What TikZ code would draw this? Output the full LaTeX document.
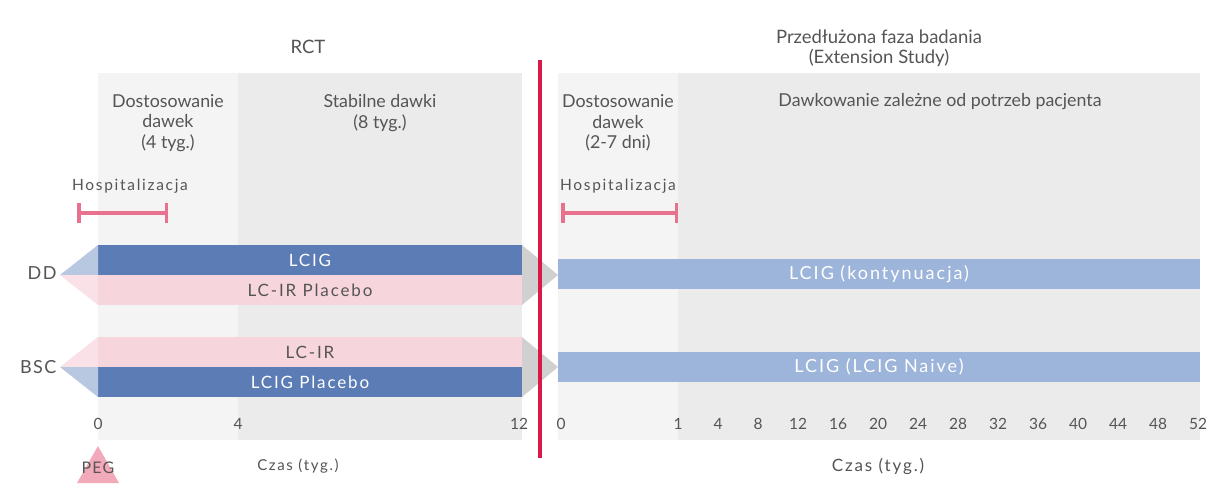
\documentclass[tikz,border=0pt]{standalone}
\usepackage{fontspec}
\setmainfont{Lato}
\newfontfamily\spaced[LetterSpace=8]{Lato}
\newfontfamily\wide[LetterSpace=11]{Lato}
\definecolor{panelA}{HTML}{F4F4F4}
\definecolor{panelB}{HTML}{EBEBEB}
\definecolor{dblue}{HTML}{5B7CB4}
\definecolor{lblue}{HTML}{9DB5DA}
\definecolor{tblue}{HTML}{B7C8E0}
\definecolor{pinkbar}{HTML}{F6D5DC}
\definecolor{tpink}{HTML}{FAE1E7}
\definecolor{tgray}{HTML}{D0D0D0}
\definecolor{redline}{HTML}{D8194B}
\definecolor{hosp}{HTML}{E8718D}
\definecolor{pegc}{HTML}{F2AABB}
\definecolor{txt}{HTML}{555555}
\tikzset{
  panel/.style={anchor=north west, inner sep=0pt, outer sep=0pt},
  bar/.style={anchor=north west, inner sep=0pt, outer sep=0pt, minimum width=424pt, minimum height=30pt, font=\wide\fontsize{17}{18}\selectfont},
  rbar/.style={anchor=north west, inner sep=0pt, outer sep=0pt, minimum width=642pt, minimum height=30pt, fill=lblue, text=white, font=\wide\fontsize{18}{18}\selectfont},
  head/.style={align=center, text=txt, font=\fontsize{17.8}{20.5}\selectfont},
  title/.style={align=center, text=txt, font=\fontsize{18.5}{20}\selectfont},
  tick/.style={text=txt, font=\fontsize{15.5}{18}\selectfont},
  small/.style={text=txt, font=\wide\fontsize{15.5}{16}\selectfont},
  hospbar/.style={draw=hosp, line width=3.5pt, {Bar[width=20pt,line width=3.5pt]}-{Bar[width=20pt,line width=3.5pt]}},
}
\usetikzlibrary{arrows.meta}
\begin{document}
\begin{tikzpicture}[x=1pt,y=-1pt]
\useasboundingbox[fill=white] (0,0) rectangle (1209,496);
% panels
\node[panel, fill=panelA, minimum width=140pt, minimum height=367pt] (p1) at (98,73) {};
\node[panel, fill=panelB, minimum width=284pt, minimum height=367pt] (p2) at (238,73) {};
\node[panel, fill=panelA, minimum width=120pt, minimum height=367pt] (p3) at (558,73) {};
\node[panel, fill=panelB, minimum width=522pt, minimum height=367pt] (p4) at (678,73) {};
% titles
\node[title] (rct) at (308,47) {RCT};
\node[title] (ext) at (879,48) {Przedłużona faza badania\\(Extension Study)};
\node[head] (h1) at (168,123) {Dostosowanie\\dawek\\(4 tyg.)};
\node[head] (h2) at (380,113) {Stabilne dawki\\(8 tyg.)};
\node[head] (h3) at (618,123) {Dostosowanie\\dawek\\(2-7 dni)};
\node[head] (h4) at (940,102) {Dawkowanie zależne od potrzeb pacjenta};
% hospitalization
\node[small] (hl) at (130,186) {Hospitalizacja};
\node[small] (hr) at (618,186) {Hospitalizacja};
\coordinate (hla) at (77,213); \coordinate (hlb) at (168,213);
\coordinate (hra) at (561,213); \coordinate (hrb) at (678,213);
\draw[hospbar] (hla) -- (hlb);
\draw[hospbar] (hra) -- (hrb);
% bars left
\node[bar, fill=dblue, text=white] (lcig) at (98,245) {LCIG};
\node[bar, fill=pinkbar, text=txt] (lcirp) at (98,275) {LC-IR Placebo};
\node[bar, fill=pinkbar, text=txt] (lcir) at (98,337) {LC-IR};
\node[bar, fill=dblue, text=white] (lcigp) at (98,367) {LCIG Placebo};
\coordinate (ddtip) at (60,275);
\coordinate (bsctip) at (60,367);
\fill[tblue] (lcig.north west) -- (lcig.south west) -- (ddtip) -- cycle;
\fill[tpink] (lcirp.north west) -- (lcirp.south west) -- (ddtip) -- cycle;
\fill[tpink] (lcir.north west) -- (lcir.south west) -- (bsctip) -- cycle;
\fill[tblue] (lcigp.north west) -- (lcigp.south west) -- (bsctip) -- cycle;
\node[tick, font=\spaced\fontsize{18}{20}\selectfont, anchor=east] (dd) at (60,273) {DD};
\node[tick, font=\spaced\fontsize{18}{20}\selectfont, anchor=east] (bsc) at (60,367) {BSC};
% gray arrows
\coordinate (g1) at (558,275);
\coordinate (g2) at (558,367);
\fill[tgray] (lcig.north east) -- (lcirp.south east) -- (g1) -- cycle;
\fill[tgray] (lcir.north east) -- (lcigp.south east) -- (g2) -- cycle;
% right bars
\node[rbar] (kont) at (558,259) {LCIG (kontynuacja)};
\node[rbar] (naive) at (558,352) {LCIG (LCIG Naive)};
% red line
\coordinate (rla) at (540,60); \coordinate (rlb) at (540,458);
\draw[redline, line width=4pt] (rla) -- (rlb);
% axis labels
\node[tick] (t0) at (98,424) {0};
\node[tick] (t4) at (238,424) {4};
\node[tick] (t12) at (519,424) {12};
\node[tick] (r0) at (561,424) {0};
\node[tick] (r1) at (678,424) {1};
\foreach \v [count=\i] in {4,8,...,52} {
  \node[tick] (r\v) at (678+40*\i,424) {\v};
}
\node[small, font=\wide\fontsize{15}{18}\selectfont] (czl) at (298,466) {Czas (tyg.)};
\node[small, font=\wide\fontsize{17}{18}\selectfont] (czr) at (878,466) {Czas (tyg.)};
% PEG
\coordinate (pa) at (98,446); \coordinate (pb) at (77,483); \coordinate (pc) at (119,483);
\fill[pegc] (pa) -- (pb) -- (pc) -- cycle;
\node[small, font=\spaced\fontsize{16}{16}\selectfont] (peg) at (98,468) {PEG};
\end{tikzpicture}
\end{document}
